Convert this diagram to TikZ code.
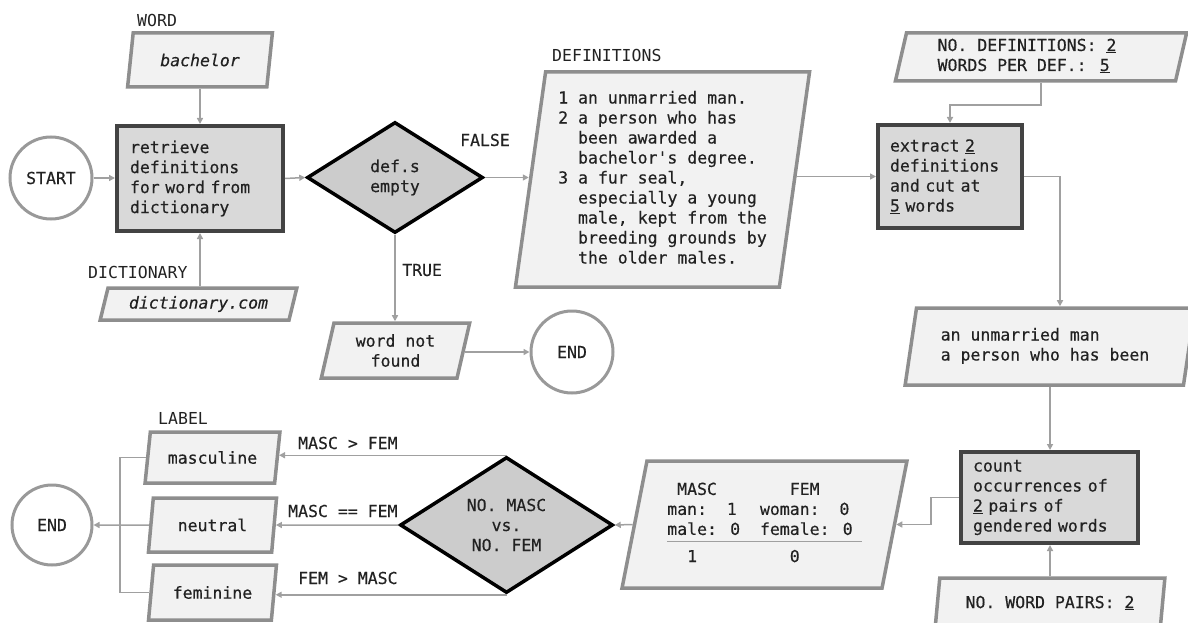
\documentclass[tikz,border=0pt]{standalone}
\usepackage{fontspec}
\setmainfont{DejaVu Sans Mono}[FakeBold=0.35]
\newfontfamily\lightfont{DejaVu Sans Mono}
\usetikzlibrary{shapes.geometric,arrows.meta,calc}
\definecolor{linegray}{HTML}{A0A0A0}
\definecolor{paraedge}{HTML}{8E8E8E}
\definecolor{parafill}{HTML}{F2F2F2}
\definecolor{procedge}{HTML}{434343}
\definecolor{procfill}{HTML}{D9D9D9}
\definecolor{decfill}{HTML}{CCCCCC}
\definecolor{termedge}{HTML}{999999}
\definecolor{txt}{HTML}{222222}
\begin{document}
\begin{tikzpicture}[x=1pt,y=-1pt,
  every node/.style={font=\fontsize{16.5}{20}\selectfont, text=txt},
  conn/.style={draw=linegray,line width=1.5pt,-{Triangle[length=6pt,width=6pt]}},
  wire/.style={draw=linegray,line width=1.5pt},
  para/.style={trapezium,trapezium left angle=76,trapezium right angle=104,trapezium stretches=true,draw=paraedge,fill=parafill,line width=3.5pt,inner sep=0pt,align=center},
  proc/.style={rectangle,draw=procedge,fill=procfill,line width=4pt,align=left},
  dec/.style={diamond,draw=black,fill=decfill,line width=3.5pt,inner sep=0pt,shape aspect=1.6,align=center},
  term/.style={circle,draw=termedge,fill=white,line width=3pt,minimum size=82pt,inner sep=0pt},
  lbl/.style={inner sep=0pt,anchor=west},
  light/.style={font=\fontsize{16.5}{20}\lightfont}
]
\useasboundingbox (0,0) rectangle (1188,623);

% top-left
\node[lbl,light] (wordlbl) at (137,20) {WORD};
\node[para,minimum width=145,minimum height=54,trapezium left angle=75.5,trapezium right angle=104.5] (word) at (200,60) {\itshape bachelor};
\node[term] (start) at (51,178) {START};
\node[proc,minimum width=166,minimum height=105,text width=140] (retr) at (200,178.5) {retrieve\\definitions\\for word from\\dictionary};
\node[lbl,light] (dictlbl) at (88,272) {DICTIONARY};
\node[para,minimum width=197,minimum height=32,trapezium left angle=69.4,trapezium right angle=110.6] (dict) at (198.5,304) {\itshape dictionary.com};

% decision 1
\node[dec,minimum width=176,minimum height=111] (empty) at (395,177.5) {def.s\\empty};
\node[lbl,anchor=center] (falselbl) at (485,140) {FALSE};
\node[lbl] (truelbl) at (402,270) {TRUE};

% definitions
\node[lbl,light] (defslbl) at (552,55) {DEFINITIONS};
\node[para,minimum width=295,minimum height=215,trapezium left angle=81.5,trapezium right angle=98.5] (defs) at (662.5,179.5)
  {\begin{tabular}{@{}l@{\ }l@{}}
   1 & an unmarried man.\\
   2 & a person who has\\
     & been awarded a\\
     & bachelor\textquotesingle s degree.\\
   3 & a fur seal,\\
     & especially a young\\
     & male, kept from the\\
     & breeding grounds by\\
     & the older males.
   \end{tabular}};

\node[para,minimum width=149,minimum height=55] (notfound) at (395.5,350.5) {word not\\found};
\node[term] (end1) at (572,352) {END};

% right column
\node[para,minimum width=292,minimum height=48,trapezium left angle=78,trapezium right angle=102] (params) at (1041,57)
  {\begin{tabular}{@{}l@{\hspace{28pt}}}NO. DEFINITIONS: \underline{2}\\WORDS PER DEF.: \underline{5}\end{tabular}};
\node[proc,minimum width=144,minimum height=103,text width=120] (extract) at (950,176.5) {extract \underline{2}\\definitions\\and cut at\\\underline{5} words};
\node[para,minimum width=290,minimum height=77,trapezium left angle=76.9,trapezium right angle=103.1] (trunc) at (1050,346.5)
  {\begin{tabular}{@{}l@{\hspace{10pt}}}an unmarried man\\a person who has been\end{tabular}};
\node[proc,minimum width=177,minimum height=91,text width=153] (count) at (1049.5,497.5) {count\\occurrences of\\\underline{2} pairs of\\gendered words};
\node[para,minimum width=230,minimum height=50] (pairs) at (1050,603) {NO. WORD PAIRS: \underline{2}};

% bottom row
\node[para,minimum width=285,minimum height=127,trapezium left angle=76.7,trapezium right angle=103.3] (tally) at (764.5,524.5)
  {\begin{tabular}{@{}l@{\ \ }l@{\hspace{9pt}}}
   \ MASC & \ \ \ FEM\\
   man:\ \ 1 & woman:\ \ 0\\
   male: 0 & female: 0\\
   \noalign{{\color{linegray}\hrule height 1.2pt}}
   \rule{0pt}{20pt}\ \ 1 & \ \ \ 0
   \end{tabular}};
\node[dec,minimum width=213,minimum height=136] (cmp) at (506.5,525) {NO. MASC\\vs.\\NO. FEM};
\node[lbl] (lblm) at (298,443) {MASC > FEM};
\node[lbl] (lbln) at (288,511) {MASC == FEM};
\node[lbl] (lblf) at (298,578) {FEM > MASC};
\node[lbl,light] (lbllabel) at (158,418) {LABEL};
\node[para,minimum width=135,minimum height=51,trapezium left angle=73.6,trapezium right angle=106.4] (masc) at (212.5,457.5) {masculine};
\node[para,minimum width=129,minimum height=54,trapezium left angle=77.5,trapezium right angle=102.5] (neut) at (212.5,525) {neutral};
\node[para,minimum width=129,minimum height=55,trapezium left angle=75,trapezium right angle=105] (fem) at (212.5,592.5) {feminine};
\node[term,minimum size=80pt] (end2) at (52,525) {END};
\coordinate (bus) at (120,525);

% connectors
\draw[conn] (word.south) -- (word.south |- retr.north);
\draw[conn] (start.east) -- (start.east -| retr.west);
\draw[conn] (retr.south |- dict.north) -- (retr.south);
\draw[conn] (retr.east) -- (empty.west);
\draw[conn] (empty.east) -- (empty.east -| defs.west);
\draw[conn] (empty.south) -- (empty.south |- notfound.north);
\draw[conn] (end1.west -| notfound.east) -- (end1.west);
\draw[conn] (params.south) -- ++(0,22) -| (extract.north);
\draw[conn] (defs.east |- extract.west) -- (extract.west);
\draw[conn] (extract.east) -- ++(36,0) coordinate (k) -- (k |- trunc.north);
\draw[conn] (trunc.south) -- (trunc.south |- count.north);
\draw[conn] (pairs.north) -- (pairs.north |- count.south);
\draw[conn] (count.west) -- ++(-28,0) coordinate (j) -- (j |- tally.east) -- (tally.east);
\draw[conn] (tally.west) -- (cmp.east);
\draw[conn] (cmp.north) -- (cmp.north -| masc.east);
\draw[conn] (cmp.west) -- (neut.east);
\draw[conn] (cmp.south) -- (cmp.south -| fem.east);
\draw[wire] (masc.west) -| (bus) |- (fem.west);
\draw[conn] (neut.west) -- (end2.east);
\end{tikzpicture}
\end{document}
